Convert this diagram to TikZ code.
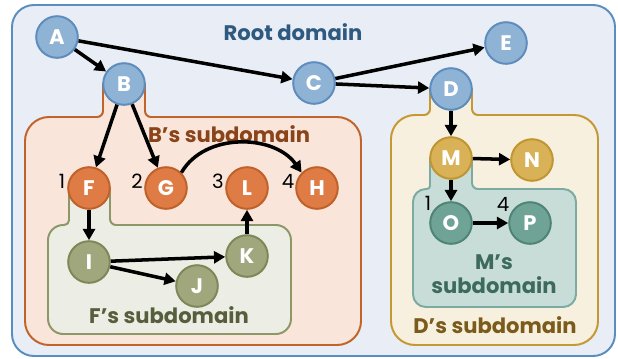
\documentclass[tikz,border=0pt]{standalone}
\usepackage{fontspec}
\setmainfont{Poppins}
\usetikzlibrary{arrows.meta}

\definecolor{rootfill}{HTML}{E9EEF6}
\definecolor{rootline}{HTML}{5B8EC0}
\definecolor{roottext}{HTML}{2F5A7F}
\definecolor{bfill}{HTML}{F9E5DA}
\definecolor{bline}{HTML}{C1642B}
\definecolor{btext}{HTML}{8A4419}
\definecolor{ffill}{HTML}{ECEDE4}
\definecolor{fline}{HTML}{8D9868}
\definecolor{ftext}{HTML}{565E3B}
\definecolor{dfill}{HTML}{F8F0DF}
\definecolor{dline}{HTML}{C59833}
\definecolor{dtext}{HTML}{7A5B1C}
\definecolor{mfill}{HTML}{C9DDD8}
\definecolor{mline}{HTML}{7BABA2}
\definecolor{mtext}{HTML}{3D6A5F}
\definecolor{bluefill}{HTML}{8FB3D5}
\definecolor{blueline}{HTML}{5E8DBD}
\definecolor{orfill}{HTML}{DF7C45}
\definecolor{orline}{HTML}{C0612A}
\definecolor{olfill}{HTML}{A0A77D}
\definecolor{olline}{HTML}{7D8858}
\definecolor{gofill}{HTML}{D9B157}
\definecolor{goline}{HTML}{BF9631}
\definecolor{tefill}{HTML}{6FA396}
\definecolor{teline}{HTML}{4F8376}

\begin{document}
\begin{tikzpicture}[x=0.025cm,y=-0.025cm,
  vertex/.style={circle,minimum size=1.04cm,inner sep=0pt,line width=1.4pt,text=white,
    font=\bfseries\fontsize{15}{15}\selectfont},
  bluev/.style={vertex,fill=bluefill,draw=blueline},
  orv/.style={vertex,fill=orfill,draw=orline},
  olv/.style={vertex,fill=olfill,draw=olline},
  gov/.style={vertex,fill=gofill,draw=goline},
  tev/.style={vertex,fill=tefill,draw=teline},
  region/.style={line width=1.4pt},
  title/.style={font=\bfseries\fontsize{15}{17}\selectfont,align=center},
  num/.style={font=\fontsize{14}{14}\selectfont,inner sep=0pt},
  link/.style={line width=2.5pt,-{Triangle[length=8pt,width=8.5pt]}}]
\useasboundingbox (0,0) rectangle (618,358);

\draw[region,fill=rootfill,draw=rootline,rounded corners=0.55cm] (12,5) rectangle (615,356); % root domain
\node[title,text=roottext] (troot) at (293,32) {Root domain};

% B's subdomain
\draw[region,fill=bfill,draw=bline] (103,84) [rounded corners=0.15cm] -- (103,117) [rounded corners=0.6cm] -- (25,117) -- (25,345) -- (361,345) -- (361,117) [rounded corners=0.15cm] -- (145,117) [sharp corners] -- (145,84) -- cycle;
\node[title,text=btext] (tb) at (229,134) {B’s subdomain};

% F's subdomain
\draw[region,fill=ffill,draw=fline] (69,188) [rounded corners=0.12cm] -- (69,225) [rounded corners=0.38cm] -- (48,225) -- (48,334) -- (291,334) -- (291,225) [rounded corners=0.15cm] -- (110,225) [sharp corners] -- (110,188) -- cycle;
\node[title,text=ftext] (tf) at (169,315) {F’s subdomain};

% D's subdomain
\draw[region,fill=dfill,draw=dline] (430,89) [rounded corners=0.15cm] -- (430,115) [rounded corners=0.6cm] -- (391,115) -- (391,345) -- (598,345) -- (598,115) [rounded corners=0.15cm] -- (472,115) [sharp corners] -- (472,89) -- cycle;
\node[title,text=dtext] (td) at (495,325) {D’s subdomain};

% M's subdomain
\draw[region,fill=mfill,draw=mline] (430,158) [rounded corners=0.08cm] -- (430,189) [rounded corners=0.32cm] -- (413,189) -- (413,307) -- (576,307) -- (576,189) [rounded corners=0.15cm] -- (472,189) [sharp corners] -- (472,158) -- cycle;
\node[title,text=mtext] (tm) at (494,274) {M’s\\subdomain};

% vertices
\node[bluev] (A) at (57,37) {A};
\node[bluev] (B) at (124,84) {B};
\node[bluev] (C) at (314,83) {C};
\node[bluev] (D) at (451,89) {D};
\node[bluev] (E) at (506,43) {E};
\node[orv] (F) at (89,188) {F};
\node[orv] (G) at (166,188) {G};
\node[orv] (L) at (247,188) {L};
\node[orv] (H) at (317,188) {H};
\node[olv] (I) at (89,262) {I};
\node[olv] (J) at (197,286) {J};
\node[olv] (K) at (247,256) {K};
\node[gov] (M) at (451,158) {M};
\node[gov] (N) at (532,160) {N};
\node[tev] (O) at (451,223) {O};
\node[tev] (P) at (530,223) {P};

% numbers
\node[num] (nF) at (62,181) {1};
\node[num] (nG) at (137,181) {2};
\node[num] (nL) at (218,181) {3};
\node[num] (nH) at (288,181) {4};
\node[num] (nO) at (428,203) {1};
\node[num] (nP) at (503,204) {4};

% edges
\draw[link] (A) -- (B);
\draw[link] (A) -- (C);
\draw[link] (B) -- (F);
\draw[link] (B) -- (G);
\draw[link] (C) -- (E);
\draw[link] (C) -- (D);
\draw[link] (D) -- (M);
\draw[link] (M) -- (N);
\draw[link] (M) -- (O);
\draw[link] (O) -- (P);
\draw[link] (F) -- (I);
\draw[link] (I) -- (K);
\draw[link] (I) -- (J);
\draw[link] (K) -- (L);
\draw[link] (G.north east) to[out=60,in=125] (H.north west); % curved one
\end{tikzpicture}
\end{document}
